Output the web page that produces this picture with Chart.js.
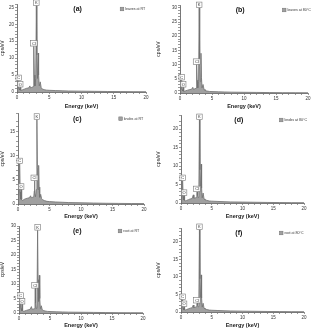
<!DOCTYPE html>
<html><head><meta charset="utf-8">
<script src="https://cdn.jsdelivr.net/npm/chart.js@4.4.1/dist/chart.umd.min.js"></script>
<style>
html,body{margin:0;padding:0;background:#fff;width:313px;height:329px;overflow:hidden;}
.p{position:absolute;}
</style></head><body>
<div id="wrap"></div>
<script>
// ---- DATA ----
const energy = [0, 0.1, 0.18, 0.26, 0.34, 0.42, 0.5, 0.58, 0.7, 0.9, 1.2, 1.5, 1.8, 2.0, 2.1, 2.2, 2.35, 2.5, 2.58, 2.62, 2.68, 2.78, 2.9, 3.0, 3.08, 3.18, 3.28, 3.35, 3.45, 3.6, 3.75, 3.9, 4.2, 4.6, 5, 6, 7, 8, 10, 12, 14, 16, 18, 20];
const leavesRT   = [0, 0.5, 1.5, 3.3, 1.0, 0.6, 1.4, 0.5, 0.5, 0.7, 0.9, 1.1, 1.2, 1.8, 1.2, 1.3, 1.4, 1.6, 6.0, 13.5, 5.0, 1.8, 4.0, 25.5, 11.0, 4.0, 11.5, 5.0, 1.8, 3.0, 1.3, 0.9, 0.7, 0.55, 0.5, 0.42, 0.36, 0.3, 0.25, 0.2, 0.15, 0.12, 0.1, 0.08];
const leaves80   = [0, 0.8, 2.0, 4.5, 1.2, 0.7, 2.0, 0.6, 0.6, 0.8, 1.0, 1.2, 1.3, 2.0, 1.3, 1.4, 1.5, 1.7, 5.0, 10.0, 4.5, 1.8, 4.0, 30.0, 12.0, 4.0, 14.0, 5.5, 1.8, 3.0, 1.3, 0.9, 0.7, 0.55, 0.5, 0.42, 0.36, 0.3, 0.25, 0.2, 0.15, 0.12, 0.1, 0.08];
const knobsRT    = [0, 1.5, 4.0, 8.3, 2.5, 1.0, 3.0, 0.9, 0.7, 0.9, 1.1, 1.2, 1.3, 1.7, 1.3, 1.3, 1.4, 1.5, 2.6, 4.8, 2.4, 1.5, 3.0, 17.5, 7.5, 3.0, 8.0, 3.5, 1.4, 2.0, 1.1, 0.9, 0.7, 0.55, 0.5, 0.42, 0.36, 0.3, 0.25, 0.2, 0.15, 0.12, 0.1, 0.08];
const knobs80    = [0, 1.0, 3.0, 6.0, 1.8, 0.8, 2.0, 0.7, 0.6, 0.7, 0.9, 1.1, 1.2, 2.2, 1.3, 1.3, 1.4, 1.5, 2.2, 3.0, 2.0, 1.5, 3.0, 22.5, 9.0, 3.0, 10.5, 4.0, 1.4, 2.7, 1.1, 0.9, 0.7, 0.55, 0.5, 0.42, 0.36, 0.3, 0.25, 0.2, 0.15, 0.12, 0.1, 0.08];
const rootRT     = [0, 1.0, 2.5, 5.0, 1.5, 0.8, 3.0, 0.8, 0.6, 0.7, 0.9, 1.1, 1.3, 2.2, 1.3, 1.3, 1.4, 1.5, 4.0, 8.5, 3.5, 1.6, 3.5, 28.5, 11.5, 4.0, 13.0, 5.0, 1.5, 2.5, 1.1, 0.9, 0.7, 0.55, 0.5, 0.42, 0.36, 0.3, 0.25, 0.2, 0.15, 0.12, 0.1, 0.08];
const root80     = [0, 0.8, 2.0, 3.5, 1.2, 0.6, 1.5, 0.6, 0.6, 0.7, 0.9, 1.1, 1.2, 2.0, 1.2, 1.3, 1.4, 1.5, 2.0, 2.5, 1.9, 1.5, 3.0, 23.5, 9.5, 3.0, 10.6, 4.0, 1.4, 2.5, 1.1, 0.9, 0.7, 0.55, 0.5, 0.42, 0.36, 0.3, 0.25, 0.2, 0.15, 0.12, 0.1, 0.08];
const peakNames = ['C', 'O', 'Cl', 'K'];
const peakEnergies = [0.26, 0.5, 2.62, 3.0];
const panelTitles = ['(a)', '(b)', '(c)', '(d)', '(e)', '(f)'];
const legendLabels = ['leaves at RT', 'leaves at 80°C', 'knobs at RT', 'knobs at 80°C', 'root at RT', 'root at 80°C'];
const yMax = [26, 31, 18.7, 23.8, 30, 24];
const series = [leavesRT, leaves80, knobsRT, knobs80, rootRT, root80];

// ---- LAYOUT ----
const layout = [
  {cx:0,   cy:0,   w:156, h:110, L:17, r:10, t:4, B:18},
  {cx:156, cy:0,   w:157, h:110, L:24, r:5,  t:5, B:17},
  {cx:0,   cy:110, w:156, h:110, L:18, r:12, t:3, B:16},
  {cx:156, cy:110, w:157, h:110, L:25, r:9,  t:5, B:17},
  {cx:0,   cy:219, w:156, h:110, L:19, r:13, t:7, B:16},
  {cx:156, cy:219, w:157, h:110, L:25, r:9,  t:9, B:17}
];
const FONT = "'Liberation Sans', Arial, sans-serif";
const FILL = '#a0a0a0', LINE = '#707070', AX = '#555';

const decor = {
  id: 'decor',
  afterDatasetsDraw(chart, args, opts) {
    const ctx = chart.ctx, xs = chart.scales.x, ys = chart.scales.y, ca = chart.chartArea;
    const vals = opts.values;
    ctx.save();
    ctx.font = '4px ' + FONT;
    ctx.textAlign = 'center'; ctx.textBaseline = 'middle';
    peakNames.forEach((nm, i) => {
      const idx = energy.indexOf(peakEnergies[i]);
      const px = xs.getPixelForValue(peakEnergies[i]);
      const py = ys.getPixelForValue(vals[idx]) - 3;
      const bw = nm.length > 1 ? 7 : 5.5, bh = 5.5;
      ctx.fillStyle = 'rgba(255,255,255,0.85)';
      ctx.fillRect(px - bw/2, py - bh/2, bw, bh);
      ctx.strokeStyle = '#777'; ctx.lineWidth = 0.6;
      ctx.strokeRect(px - bw/2, py - bh/2, bw, bh);
      ctx.fillStyle = '#333';
      ctx.fillText(nm, px, py + 0.3);
    });
    ctx.font = 'bold 7px ' + FONT;
    ctx.fillStyle = '#111';
    ctx.fillText(opts.title, ca.left + (ca.right - ca.left) * 0.47, ca.top + 5);
    const lx = ca.left + (ca.right - ca.left) * 0.80, ly = ca.top + 5;
    ctx.fillStyle = FILL; ctx.fillRect(lx, ly - 1.8, 3.6, 3.6);
    ctx.strokeStyle = LINE; ctx.lineWidth = 0.5; ctx.strokeRect(lx, ly - 1.8, 3.6, 3.6);
    ctx.font = '3.6px ' + FONT; ctx.textAlign = 'left'; ctx.fillStyle = '#333';
    ctx.fillText(opts.legend, lx + 5, ly);
    ctx.restore();
  }
};

const wrap = document.getElementById('wrap');
series.forEach((vals, k) => {
  const g = layout[k];
  const div = document.createElement('div');
  div.className = 'p';
  div.style.left = g.cx + 'px'; div.style.top = g.cy + 'px';
  div.style.width = g.w + 'px'; div.style.height = g.h + 'px';
  const cv = document.createElement('canvas');
  cv.width = g.w; cv.height = g.h;
  cv.style.width = g.w + 'px'; cv.style.height = g.h + 'px';
  div.appendChild(cv); wrap.appendChild(div);
  new Chart(cv, {
    type: 'line',
    data: { datasets: [{
      data: energy.map((e, i) => ({x: e, y: vals[i]})),
      borderColor: LINE, borderWidth: 0.8, backgroundColor: FILL,
      fill: 'origin', pointRadius: 0, tension: 0
    }]},
    options: {
      responsive: false, animation: false, devicePixelRatio: 1,
      layout: { padding: {left: 0, right: g.r, top: g.t, bottom: 0} },
      plugins: { legend: {display: false}, tooltip: {enabled: false},
        decor: { values: vals, title: panelTitles[k], legend: legendLabels[k] } },
      scales: {
        x: { type: 'linear', min: 0, max: 20,
          afterFit: s => { s.height = g.B; },
          grid: { drawOnChartArea: false, drawTicks: true, tickLength: 2, color: AX, lineWidth: 0.6 },
          border: { color: AX, width: 0.8 },
          ticks: { stepSize: 1, autoSkip: false, maxRotation: 0, padding: 1,
            font: {size: 4.5, family: FONT}, color: '#333',
            callback: v => (v % 5 === 0 ? String(v) : '') },
          title: { display: true, text: 'Energy (keV)', padding: {top: 0, bottom: 0},
            font: {size: 5.5, weight: 'bold', family: FONT}, color: '#222' }
        },
        y: { min: 0, max: yMax[k],
          afterFit: s => { s.width = g.L; },
          grid: { drawOnChartArea: false, drawTicks: true, tickLength: 2, color: AX, lineWidth: 0.6 },
          border: { color: AX, width: 0.8 },
          ticks: { stepSize: 1, autoSkip: false, padding: 1,
            font: {size: 4.5, family: FONT}, color: '#333',
            callback: v => (v % 5 === 0 ? String(v) : '') },
          title: { display: true, text: 'cps/eV', padding: {top: 0, bottom: 0},
            font: {size: 5, family: FONT}, color: '#222' }
        }
      }
    },
    plugins: [decor]
  });
});
</script>
</body></html>
